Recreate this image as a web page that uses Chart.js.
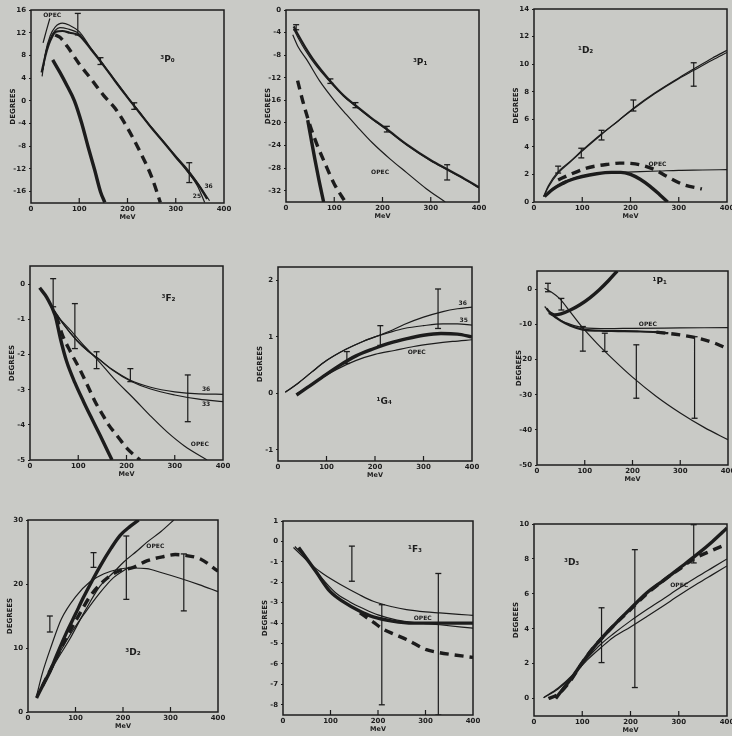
<!DOCTYPE html>
<html>
<head>
<meta charset="utf-8">
<script src="https://cdn.jsdelivr.net/npm/chart.js@4.4.1/dist/chart.umd.min.js"></script>
<style>
  html, body { margin: 0; padding: 0; background: #c9cac6; width: 732px; height: 736px; overflow: hidden; position: relative; }
  .panel { position: absolute; }
</style>
</head>
<body>
<script>
// ---- 3P0 ----
const p3P0_thick_x = [45, 60, 75, 90, 105, 118, 132, 144, 153];
const p3P0_thick_y = [7.2, 5.0, 2.6, 0, -3.9, -8, -12.2, -16, -17.9];
const p3P0_dash_x = [50, 60, 75, 100, 125, 150, 175, 200, 225, 250, 268];
const p3P0_dash_y = [11.6, 11.2, 9.6, 6.5, 3.8, 1.0, -1.4, -4.8, -8.8, -13.4, -17.9];
const p3P0_t36_x = [23, 30, 40, 50, 65, 80, 100, 125, 150, 175, 200, 225, 250, 275, 300, 325, 350, 370];
const p3P0_t36_y = [4.3, 8.5, 11.5, 13.0, 13.7, 13.3, 12.2, 9.2, 6.4, 3.5, 0.7, -2.0, -4.7, -7.2, -9.7, -12.1, -15.0, -17.6];
const p3P0_t25_x = [25, 32, 40, 50, 60, 75, 100, 125, 150, 175, 200, 225, 250, 275, 300, 325, 345, 360];
const p3P0_t25_y = [5.5, 9.0, 11.0, 12.4, 12.9, 12.7, 11.8, 9.1, 6.3, 3.4, 0.6, -2.1, -4.8, -7.3, -9.9, -12.5, -15.0, -17.9];
const p3P0_med_x = [22, 30, 40, 52, 65, 80, 100, 125, 150, 175, 200, 225, 250, 275, 300, 325, 350, 365];
const p3P0_med_y = [5.0, 8.0, 10.6, 12.2, 12.3, 12.0, 11.5, 9.0, 6.3, 3.4, 0.6, -2.1, -4.8, -7.3, -9.9, -12.4, -15.2, -17.3];
const p3P0_opec_x = [25, 32, 39];
const p3P0_opec_y = [10.2, 12.4, 14.5];
const p3P0_err_x = [97, 144, 214, 328];
const p3P0_err_lo = [11.6, 6.4, -1.5, -14.4];
const p3P0_err_hi = [15.4, 7.6, -0.35, -10.9];

// ---- 3P1 ----
const p3P1_top_x = [16, 25, 40, 60, 92, 120, 144, 175, 209, 250, 300, 334, 370, 400];
const p3P1_top_y = [-2.9, -4.4, -6.6, -9.2, -12.6, -15.2, -16.9, -19.0, -21.1, -23.8, -26.6, -28.2, -29.9, -31.4];
const p3P1_top2_y = [-3.4, -4.9, -7.1, -9.6, -12.8, -15.3, -17.0, -19.1, -21.2, -23.9, -26.7, -28.3, -30.0, -31.5];
const p3P1_opec_x = [14, 25, 43, 70, 99, 125, 147, 180, 216, 250, 290, 330];
const p3P1_opec_y = [-4.4, -6.5, -8.8, -12.6, -15.9, -18.5, -20.6, -23.6, -26.4, -28.8, -31.6, -34.0];
const p3P1_dash_x = [24, 35, 50, 65, 80, 100, 123];
const p3P1_dash_y = [-12.5, -16.2, -20.5, -24, -27, -30.8, -34];
const p3P1_thick_x = [45, 52, 60, 68, 78];
const p3P1_thick_y = [-19.5, -22.8, -26.5, -30, -34];
const p3P1_err_x = [21, 92, 144, 209, 334];
const p3P1_err_lo = [-3.5, -13, -17.3, -21.6, -30.1];
const p3P1_err_hi = [-2.6, -12.2, -16.4, -20.6, -27.4];

// ---- 1D2 ----
const p1D2_up_x = [20, 30, 50, 75, 100, 140, 175, 206, 250, 300, 331, 370, 400];
const p1D2_upA_y = [0.4, 1.2, 2.2, 2.95, 3.75, 4.95, 5.9, 6.75, 7.85, 8.95, 9.55, 10.3, 10.85];
const p1D2_upB_y = [0.4, 1.1, 2.1, 2.9, 3.7, 4.9, 5.9, 6.8, 7.9, 9.0, 9.65, 10.45, 11.0];
const p1D2_opec_x = [20, 40, 60, 90, 120, 150, 180, 220, 260, 300, 350, 400];
const p1D2_opec_y = [0.4, 1.0, 1.45, 1.8, 2.0, 2.1, 2.15, 2.2, 2.25, 2.3, 2.32, 2.35];
const p1D2_thick_x = [22, 40, 60, 80, 100, 130, 160, 180, 200, 220, 240, 260, 277];
const p1D2_thick_y = [0.4, 0.95, 1.35, 1.65, 1.85, 2.05, 2.15, 2.15, 2.0, 1.65, 1.15, 0.55, 0];
const p1D2_dash_x = [50, 75, 109, 130, 150, 178, 200, 220, 250, 275, 310, 348];
const p1D2_dash_y = [1.6, 2.0, 2.46, 2.62, 2.72, 2.82, 2.8, 2.7, 2.35, 1.86, 1.26, 0.95];
const p1D2_err_x = [50, 98, 140, 206, 331];
const p1D2_err_lo = [2.1, 3.2, 4.5, 6.6, 8.4];
const p1D2_err_hi = [2.6, 3.9, 5.2, 7.4, 10.1];

// ---- 3F2 ----
const p3F2_t_x = [50, 70, 97, 120, 140, 170, 208, 250, 300, 350, 400];
const p3F2_t36_y = [-0.74, -1.15, -1.6, -1.9, -2.1, -2.42, -2.73, -2.93, -3.06, -3.12, -3.13];
const p3F2_t33_y = [-0.74, -1.15, -1.6, -1.9, -2.1, -2.43, -2.75, -2.98, -3.15, -3.27, -3.34];
const p3F2_opec_x = [48, 80, 110, 140, 175, 215, 250, 284, 320, 367];
const p3F2_opec_y = [-0.79, -1.25, -1.72, -2.15, -2.7, -3.25, -3.75, -4.2, -4.6, -5.0];
const p3F2_thick_x = [20, 35, 52, 64, 76, 93, 111, 128, 145, 170];
const p3F2_thick_y = [-0.1, -0.38, -0.88, -1.6, -2.2, -2.8, -3.34, -3.82, -4.29, -5.0];
const p3F2_dash_x = [55, 66, 85, 104, 120, 135, 150, 163, 180, 201, 228];
const p3F2_dash_y = [-0.9, -1.4, -1.95, -2.44, -2.9, -3.34, -3.7, -4.0, -4.3, -4.67, -5.0];
const p3F2_err_x = [48, 93, 138, 208, 327];
const p3F2_err_lo = [-0.64, -1.83, -2.4, -2.77, -3.91];
const p3F2_err_hi = [0.16, -0.55, -1.92, -2.4, -2.58];

// ---- 1G4 ----
const p1G4_t_x = [15, 40, 70, 100, 140, 175, 200, 230, 260, 300, 340, 370, 400];
const p1G4_t36_y = [0.02, 0.17, 0.38, 0.58, 0.78, 0.92, 1.0, 1.1, 1.22, 1.35, 1.45, 1.5, 1.53];
const p1G4_t35_y = [0.02, 0.17, 0.38, 0.58, 0.78, 0.92, 1.0, 1.08, 1.15, 1.2, 1.23, 1.23, 1.21];
const p1G4_thick_x = [38, 60, 90, 128, 160, 197, 230, 266, 300, 336, 370, 400];
const p1G4_thick_y = [-0.03, 0.1, 0.28, 0.5, 0.66, 0.79, 0.89, 0.97, 1.03, 1.06, 1.05, 1.0];
const p1G4_opec_x = [40, 80, 120, 160, 200, 240, 280, 320, 360, 400];
const p1G4_opec_y = [0.0, 0.22, 0.42, 0.58, 0.69, 0.76, 0.83, 0.88, 0.92, 0.95];
const p1G4_err_x = [142, 211, 330];
const p1G4_err_lo = [0.53, 0.85, 1.15];
const p1G4_err_hi = [0.74, 1.2, 1.85];

// ---- 1P1 ----
const p1P1_rise_x = [25, 37, 50, 70, 90, 110, 130, 150, 168];
const p1P1_rise_y = [-6.6, -7.3, -7.0, -5.9, -4.4, -2.5, -0.2, 2.5, 5.2];
const p1P1_steep_x = [16, 30, 47, 70, 96, 125, 160, 200, 250, 300, 350, 400];
const p1P1_steep_y = [0.3, -0.8, -2.6, -6.5, -11.0, -15.3, -20.0, -25.0, -30.5, -35.2, -39.3, -42.8];
const p1P1_opec_x = [16, 30, 47, 70, 96, 150, 200, 300, 400];
const p1P1_opec_y = [-4.9, -7.0, -8.7, -10.0, -10.9, -11.2, -11.1, -11.0, -10.9];
const p1P1_heavy_x = [20, 30, 50, 70, 96, 130, 170, 210, 250, 275];
const p1P1_heavy_y = [-5.5, -7.0, -9.0, -10.4, -11.5, -11.8, -11.9, -12.0, -12.2, -12.5];
const p1P1_dash_x = [250, 290, 330, 370, 400];
const p1P1_dash_y = [-12.2, -12.8, -13.7, -15.2, -17.0];
const p1P1_err_x = [23, 51, 96, 142, 208, 330];
const p1P1_err_lo = [-0.7, -5.9, -17.6, -17.7, -31, -36.7];
const p1P1_err_hi = [1.7, -2.6, -10.6, -12.5, -15.8, -13.5];

// ---- 3D2 ----
const p3D2_thick_x = [18, 30, 46, 60, 81, 100, 116, 135, 152, 175, 194, 215, 233];
const p3D2_thick_y = [2.2, 4.0, 6.3, 8.8, 12.4, 15.3, 17.8, 20.5, 22.8, 25.6, 27.6, 29.0, 30];
const p3D2_opec_x = [18, 40, 60, 88, 120, 152, 180, 201, 230, 250, 280, 307];
const p3D2_opec_y = [2.2, 5.3, 8.0, 11.4, 15.8, 19.7, 21.8, 23.4, 25.2, 26.5, 28.2, 30];
const p3D2_peak_x = [18, 30, 50, 70, 100, 130, 160, 190, 220, 250, 280, 320, 360, 400];
const p3D2_peak_y = [2.5, 6.0, 10.5, 14.5, 18.0, 20.3, 21.6, 22.3, 22.5, 22.4, 21.8, 20.9, 19.9, 18.8];
const p3D2_mid_x = [18, 50, 88, 120, 150, 180, 210];
const p3D2_mid_y = [2.2, 7.0, 12.0, 15.5, 18.5, 21.0, 22.5];
const p3D2_dash_x = [30, 50, 80, 110, 130, 160, 190, 222, 250, 286, 310, 328, 363, 400];
const p3D2_dash_y = [4.0, 7.0, 11.5, 15.5, 18.0, 20.5, 22.0, 22.6, 23.6, 24.3, 24.6, 24.5, 23.9, 22.0];
const p3D2_err_x = [46, 138, 207, 328];
const p3D2_err_lo = [12.5, 22.6, 17.6, 15.8];
const p3D2_err_hi = [15, 24.9, 27.5, 24.7];

// ---- 1F3 ----
const p1F3_top_x = [22, 40, 60, 85, 120, 160, 190, 230, 260, 300, 330, 370, 400];
const p1F3_top_y = [-0.3, -0.7, -1.15, -1.6, -2.1, -2.6, -2.93, -3.2, -3.34, -3.45, -3.5, -3.57, -3.62];
const p1F3_thick_x = [33, 50, 70, 99, 130, 160, 190, 230, 274, 330, 400];
const p1F3_thick_y = [-0.3, -0.85, -1.5, -2.45, -3.0, -3.4, -3.7, -3.9, -4.0, -4.0, -4.0];
const p1F3_opec_x = [25, 50, 80, 110, 140, 170, 200, 240, 280, 330, 400];
const p1F3_opec_y = [-0.25, -0.85, -1.75, -2.5, -2.95, -3.3, -3.6, -3.85, -3.98, -4.08, -4.25];
const p1F3_dash_x = [162, 190, 211, 235, 260, 302, 330, 358, 400];
const p1F3_dash_y = [-3.5, -3.95, -4.3, -4.55, -4.8, -5.3, -5.45, -5.55, -5.68];
const p1F3_err_x = [145, 208, 327];
const p1F3_err_lo = [-1.95, -8, -8.5];
const p1F3_err_hi = [-0.23, -3.1, -1.57];

// ---- 3D3 ----
const p3D3_thick_x = [45, 60, 80, 95, 120, 140, 164, 200, 234, 270, 303, 340, 370, 400];
const p3D3_thick_y = [0.0, 0.55, 1.25, 1.85, 2.8, 3.45, 4.15, 5.15, 6.06, 6.8, 7.5, 8.3, 9.0, 9.77];
const p3D3_dash_x = [30, 50, 75, 95, 120, 164, 200, 234, 270, 303, 331, 370, 400];
const p3D3_dash_y = [0, 0.25, 1.0, 1.85, 2.8, 4.15, 5.1, 6.0, 6.8, 7.45, 8.0, 8.5, 8.85];
const p3D3_t_x = [20, 50, 80, 110, 140, 164, 200, 234, 270, 300, 340, 370, 400];
const p3D3_opec_y = [0.05, 0.6, 1.35, 2.3, 3.15, 3.7, 4.45, 5.1, 5.75, 6.3, 7.0, 7.5, 8.0];
const p3D3_low_y = [0.05, 0.55, 1.3, 2.2, 2.95, 3.5, 4.1, 4.7, 5.35, 5.9, 6.6, 7.1, 7.6];
const p3D3_err_x = [140, 209, 331];
const p3D3_err_lo = [2.06, 0.63, 7.77];
const p3D3_err_hi = [5.2, 8.53, 9.96];

const INK = '#1c1c1c';
const FONT = "'DejaVu Sans', sans-serif";

const LINE = {
  thick:  { borderWidth: 3.4 },
  medium: { borderWidth: 2.2 },
  thin:   { borderWidth: 1.2 },
  dash:   { borderWidth: 3.4, borderDash: [9, 6] }
};

function pts(xs, ys) {
  return xs.map((x, i) => ({ x: x, y: ys[i] }));
}

function errPts(xs, lo, hi) {
  const out = [];
  xs.forEach((x, i) => {
    out.push({ x: x, y: lo[i] }, { x: x, y: hi[i] }, { x: x, y: null });
  });
  return out;
}

function range(a, b, step) {
  const r = [];
  for (let v = a; v <= b + 1e-9; v += step) r.push(Math.round(v * 100) / 100);
  return r;
}

const panels = [
  { box: [31, 10, 224, 203], y: [-18, 16], ticks: range(-16, 16, 4),
    curves: [['thick', p3P0_thick_x, p3P0_thick_y], ['dash', p3P0_dash_x, p3P0_dash_y],
             ['thin', p3P0_t36_x, p3P0_t36_y], ['thin', p3P0_t25_x, p3P0_t25_y],
             ['medium', p3P0_med_x, p3P0_med_y], ['thin', p3P0_opec_x, p3P0_opec_y]],
    err: [p3P0_err_x, p3P0_err_lo, p3P0_err_hi],
    labels: [['³P₀', 283, 7.2, 9], ['OPEC', 44, 15.1, 6], ['36', 368, -15.0, 6], ['25', 344, -16.8, 6]] },
  { box: [286, 10, 479, 202], y: [-34, 0], ticks: range(-32, 0, 4),
    curves: [['medium', p3P1_top_x, p3P1_top_y], ['thin', p3P1_top_x, p3P1_top2_y],
             ['thin', p3P1_opec_x, p3P1_opec_y], ['dash', p3P1_dash_x, p3P1_dash_y],
             ['thick', p3P1_thick_x, p3P1_thick_y]],
    err: [p3P1_err_x, p3P1_err_lo, p3P1_err_hi],
    labels: [['³P₁', 278, -9.4, 9], ['OPEC', 195, -28.7, 6]] },
  { box: [534, 9, 727, 202], y: [0, 14], ticks: range(0, 14, 2),
    curves: [['thin', p1D2_up_x, p1D2_upA_y], ['thin', p1D2_up_x, p1D2_upB_y],
             ['thin', p1D2_opec_x, p1D2_opec_y], ['thick', p1D2_thick_x, p1D2_thick_y],
             ['dash', p1D2_dash_x, p1D2_dash_y]],
    err: [p1D2_err_x, p1D2_err_lo, p1D2_err_hi],
    labels: [['¹D₂', 107, 11.0, 9], ['OPEC', 256, 2.7, 6]] },
  { box: [30, 266, 223, 460], y: [-5, 0.52], ticks: range(-5, 0, 1),
    curves: [['thin', p3F2_t_x, p3F2_t36_y], ['thin', p3F2_t_x, p3F2_t33_y],
             ['thin', p3F2_opec_x, p3F2_opec_y], ['thick', p3F2_thick_x, p3F2_thick_y],
             ['dash', p3F2_dash_x, p3F2_dash_y]],
    err: [p3F2_err_x, p3F2_err_lo, p3F2_err_hi],
    labels: [['³F₂', 287, -0.41, 9], ['OPEC', 352, -4.57, 6], ['36', 365, -3.0, 6], ['33', 365, -3.42, 6]] },
  { box: [278, 267, 472, 461], y: [-1.2, 2.24], ticks: range(-1, 2, 1),
    curves: [['thin', p1G4_t_x, p1G4_t36_y], ['thin', p1G4_t_x, p1G4_t35_y],
             ['thick', p1G4_thick_x, p1G4_thick_y], ['thin', p1G4_opec_x, p1G4_opec_y]],
    err: [p1G4_err_x, p1G4_err_lo, p1G4_err_hi],
    labels: [['¹G₄', 219, -0.14, 9], ['OPEC', 286, 0.73, 6], ['36', 381, 1.6, 6], ['35', 383, 1.29, 6]] },
  { box: [537, 271, 728, 465], y: [-50, 5.2], ticks: range(-50, 0, 10),
    curves: [['thick', p1P1_rise_x, p1P1_rise_y], ['thin', p1P1_steep_x, p1P1_steep_y],
             ['thin', p1P1_opec_x, p1P1_opec_y], ['medium', p1P1_heavy_x, p1P1_heavy_y],
             ['dash', p1P1_dash_x, p1P1_dash_y]],
    err: [p1P1_err_x, p1P1_err_lo, p1P1_err_hi],
    labels: [['¹P₁', 257, 2.2, 9], ['OPEC', 232, -10.0, 6]] },
  { box: [28, 520, 218, 712], y: [0, 30], ticks: range(0, 30, 10),
    curves: [['thick', p3D2_thick_x, p3D2_thick_y], ['thin', p3D2_opec_x, p3D2_opec_y],
             ['thin', p3D2_peak_x, p3D2_peak_y], ['thin', p3D2_mid_x, p3D2_mid_y],
             ['dash', p3D2_dash_x, p3D2_dash_y]],
    err: [p3D2_err_x, p3D2_err_lo, p3D2_err_hi],
    labels: [['³D₂', 221, 9.2, 9], ['OPEC', 268, 25.8, 6]] },
  { box: [283, 521, 473, 715], y: [-8.5, 1], ticks: range(-8, 1, 1),
    curves: [['thin', p1F3_top_x, p1F3_top_y], ['thick', p1F3_thick_x, p1F3_thick_y],
             ['thin', p1F3_opec_x, p1F3_opec_y], ['dash', p1F3_dash_x, p1F3_dash_y]],
    err: [p1F3_err_x, p1F3_err_lo, p1F3_err_hi],
    labels: [['¹F₃', 278, -0.4, 9], ['OPEC', 294, -3.75, 6]] },
  { box: [534, 524, 727, 716], y: [-1, 10], ticks: range(0, 10, 2),
    curves: [['thick', p3D3_thick_x, p3D3_thick_y], ['dash', p3D3_dash_x, p3D3_dash_y],
             ['thin', p3D3_t_x, p3D3_opec_y], ['thin', p3D3_t_x, p3D3_low_y]],
    err: [p3D3_err_x, p3D3_err_lo, p3D3_err_hi],
    labels: [['³D₃', 78, 7.8, 9], ['OPEC', 301, 6.5, 6]] }
];

const PAD_L = 34, PAD_T = 8, PAD_R = 16, PAD_B = 20;

// frame, inner x ticks and in-plot text
const framePlugin = {
  id: 'frame',
  afterDraw(chart) {
    const { ctx, chartArea: a, scales } = chart;
    const panel = chart.options.plugins.frame.panel;
    ctx.save();
    ctx.strokeStyle = INK;
    ctx.lineWidth = 1.5;
    ctx.strokeRect(a.left, a.top, a.right - a.left, a.bottom - a.top);
    ctx.lineWidth = 1.2;
    [100, 200, 300].forEach(v => {
      const px = scales.x.getPixelForValue(v);
      ctx.beginPath();
      ctx.moveTo(px, a.bottom);
      ctx.lineTo(px, a.bottom - 5);
      ctx.stroke();
    });
    ctx.fillStyle = INK;
    ctx.textAlign = 'center';
    ctx.textBaseline = 'middle';
    panel.labels.forEach(([t, x, y, size]) => {
      ctx.font = 'bold ' + size + 'px ' + FONT;
      ctx.fillText(t, scales.x.getPixelForValue(x), scales.y.getPixelForValue(y));
    });
    ctx.restore();
  }
};

function makePanel(panel) {
  const [l, t, r, b] = panel.box;
  const w = (r - l) + PAD_L + PAD_R;
  const h = (b - t) + PAD_T + PAD_B;
  const div = document.createElement('div');
  div.className = 'panel';
  div.style.left = (l - PAD_L) + 'px';
  div.style.top = (t - PAD_T) + 'px';
  const canvas = document.createElement('canvas');
  canvas.width = w;
  canvas.height = h;
  canvas.style.width = w + 'px';
  canvas.style.height = h + 'px';
  div.appendChild(canvas);
  document.body.appendChild(div);

  const datasets = panel.curves.map(([kind, xs, ys]) => Object.assign({
    data: pts(xs, ys),
    borderColor: INK,
    pointRadius: 0,
    fill: false,
    cubicInterpolationMode: 'monotone'
  }, LINE[kind]));

  datasets.push({
    data: errPts(panel.err[0], panel.err[1], panel.err[2]),
    borderColor: INK,
    borderWidth: 1.2,
    pointStyle: 'line',
    pointRadius: 3,
    pointBorderColor: INK,
    pointBorderWidth: 1.3,
    spanGaps: false,
    tension: 0
  });

  new Chart(canvas, {
    type: 'line',
    data: { datasets },
    options: {
      responsive: false,
      animation: false,
      devicePixelRatio: 1,
      layout: { padding: { left: 0, top: PAD_T, right: PAD_R, bottom: 0 } },
      scales: {
        x: {
          type: 'linear', min: 0, max: 400,
          afterBuildTicks: s => { s.ticks = [0, 100, 200, 300, 400].map(v => ({ value: v })); },
          afterFit: s => { s.height = PAD_B; },
          grid: { display: false, drawTicks: false },
          border: { display: false },
          ticks: { color: INK, padding: 2, maxRotation: 0, font: { family: FONT, size: 7, weight: 'bold' } },
          title: { display: true, text: 'MeV', color: INK, padding: { top: 0, bottom: 2 },
                   font: { family: FONT, size: 6.5, weight: 'bold' } }
        },
        y: {
          type: 'linear', min: panel.y[0], max: panel.y[1],
          afterBuildTicks: s => { s.ticks = panel.ticks.map(v => ({ value: v })); },
          afterFit: s => { s.width = PAD_L; },
          grid: { drawOnChartArea: false, drawTicks: true, tickLength: 2, color: INK, lineWidth: 1 },
          border: { display: false },
          ticks: { color: INK, padding: 3, font: { family: FONT, size: 7, weight: 'bold' } },
          title: { display: true, text: 'DEGREES', color: INK, padding: { top: 12, bottom: 0 },
                   font: { family: FONT, size: 7, weight: 'bold' } }
        }
      },
      plugins: {
        legend: { display: false },
        tooltip: { enabled: false },
        frame: { panel: panel }
      }
    },
    plugins: [framePlugin]
  });
}

panels.forEach(makePanel);
</script>
</body>
</html>
